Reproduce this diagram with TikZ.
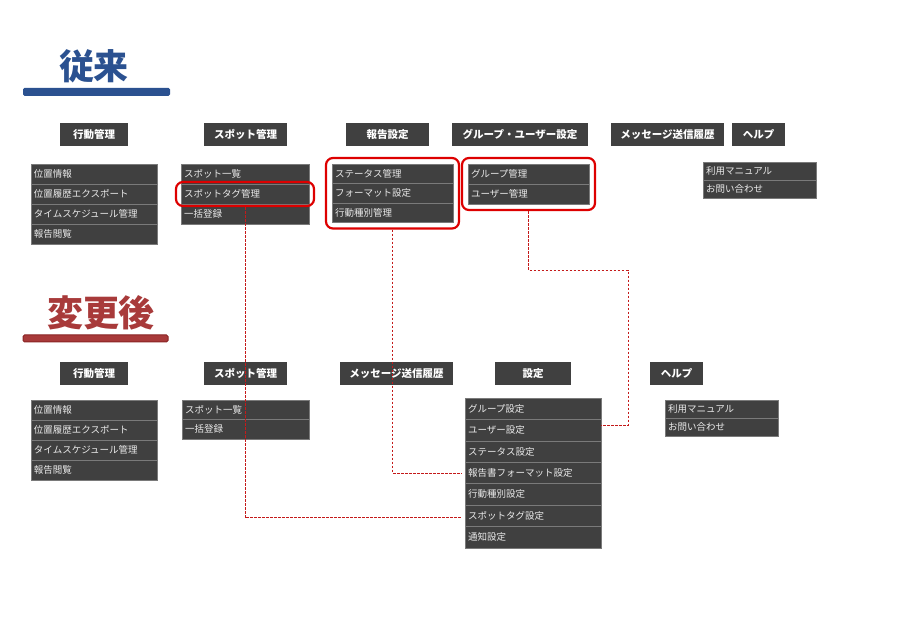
\documentclass[tikz,border=0pt]{standalone}
\usepackage{fontspec}
\newfontfamily\jp{Noto Sans CJK JP}
\usetikzlibrary{positioning,fit}
\definecolor{menugray}{HTML}{404040}
\definecolor{rulegray}{HTML}{7A7A7A}
\definecolor{oldblue}{HTML}{2B5190}
\definecolor{newred}{HTML}{A83A3A}
\definecolor{bardark}{HTML}{8A2424}
\definecolor{pickred}{HTML}{DD0000}
\definecolor{linkred}{HTML}{C41A1A}
\begin{document}
\begin{tikzpicture}[x=1pt,y=-1pt,node distance=0pt,
 menuhead/.style={fill=menugray,text=white,font=\jp\bfseries\fontsize{10.5}{12}\selectfont,minimum height=23pt,inner sep=0pt},
 menuitem/.style={fill=menugray,draw=rulegray,line width=0.6pt,text=white!92!black,font=\jp\fontsize{9.5}{11}\selectfont,text width=#1,align=left,inner xsep=3pt,inner ysep=0pt,minimum height=20pt,anchor=north west,outer sep=0pt},
 pickbox/.style={draw=pickred,line width=2.2pt,rounded corners=7pt,inner sep=6pt},
 movelink/.style={draw=linkred,line width=0.8pt,dash pattern=on 2.5pt off 1.5pt}]
\useasboundingbox (0,0) rectangle (906,639);
% titles
\node[font=\jp\bfseries\fontsize{35}{37}\selectfont,text=oldblue,inner sep=0pt] (oldtitle) at (94,66) {従来};
\fill[oldblue,rounded corners=1.5pt] (23,88) rectangle (170,96);
\node[font=\jp\bfseries\fontsize{36}{38}\selectfont,text=newred,inner sep=0pt] (newtitle) at (101,313) {変更後};
\draw[fill=newred,draw=bardark,line width=1pt,rounded corners=1.5pt] (23,335) rectangle (168,342);
% old menu heads
\node[menuhead,minimum width=68pt] (oact) at (94,134.5) {行動管理};
\node[menuhead,minimum width=83pt] (ospot) at (245.5,134.5) {スポット管理};
\node[menuhead,minimum width=83pt] (orep) at (387.5,134.5) {報告設定};
\node[menuhead,minimum width=136pt] (ogrp) at (520,134.5) {グループ・ユーザー設定};
\node[menuhead,minimum width=113pt] (omsg) at (667.5,134.5) {メッセージ送信履歴};
\node[menuhead,minimum width=53pt] (ohelp) at (758.5,134.5) {ヘルプ};
% old lists
\node[menuitem=120pt] (oact1) at (31,164) {位置情報};
\node[menuitem=120pt,below=of oact1] (oact2) {位置履歴エクスポート};
\node[menuitem=120pt,below=of oact2] (oact3) {タイムスケジュール管理};
\node[menuitem=120pt,below=of oact3] (oact4) {報告閲覧};
\node[menuitem=122pt] (ospot1) at (181,164) {スポット一覧};
\node[menuitem=122pt,below=of ospot1] (ospot2) {スポットタグ管理};
\node[menuitem=122pt,below=of ospot2] (ospot3) {一括登録};
\node[menuitem=115pt,minimum height=19.5pt] (orep1) at (332,164) {ステータス管理};
\node[menuitem=115pt,minimum height=19.5pt,below=of orep1] (orep2) {フォーマット設定};
\node[menuitem=115pt,minimum height=19.5pt,below=of orep2] (orep3) {行動種別管理};
\node[menuitem=115pt] (ogrp1) at (468,164) {グループ管理};
\node[menuitem=115pt,below=of ogrp1] (ogrp2) {ユーザー管理};
\node[menuitem=107pt,minimum height=18pt] (ohelp1) at (703,162) {利用マニュアル};
\node[menuitem=107pt,minimum height=18pt,below=of ohelp1] (ohelp2) {お問い合わせ};
% picked items
\node[pickbox,inner xsep=5pt,inner ysep=2pt,fit=(ospot2)] (tagbox) {};
\node[pickbox,fit=(orep1)(orep3)] (repbox) {};
\node[pickbox,fit=(ogrp1)(ogrp2)] (grpbox) {};
% new menu heads
\node[menuhead,minimum width=68pt] (nact) at (94,373.5) {行動管理};
\node[menuhead,minimum width=83pt] (nspot) at (245.5,373.5) {スポット管理};
\node[menuhead,minimum width=113pt] (nmsg) at (396.5,373.5) {メッセージ送信履歴};
\node[menuhead,minimum width=76pt] (nset) at (533,373.5) {設定};
\node[menuhead,minimum width=53pt] (nhelp) at (676.5,373.5) {ヘルプ};
% new lists
\node[menuitem=120pt] (nact1) at (31,400) {位置情報};
\node[menuitem=120pt,below=of nact1] (nact2) {位置履歴エクスポート};
\node[menuitem=120pt,below=of nact2] (nact3) {タイムスケジュール管理};
\node[menuitem=120pt,below=of nact3] (nact4) {報告閲覧};
\node[menuitem=121pt,minimum height=19.5pt] (nspot1) at (182,400) {スポット一覧};
\node[menuitem=121pt,minimum height=19.5pt,below=of nspot1] (nspot2) {一括登録};
\node[menuitem=130pt,minimum height=21.4pt] (grpset) at (465,398) {グループ設定};
\node[menuitem=130pt,minimum height=21.4pt,below=of grpset] (usrset) {ユーザー設定};
\node[menuitem=130pt,minimum height=21.4pt,below=of usrset] (staset) {ステータス設定};
\node[menuitem=130pt,minimum height=21.4pt,below=of staset] (fmtset) {報告書フォーマット設定};
\node[menuitem=130pt,minimum height=21.4pt,below=of fmtset] (actset) {行動種別設定};
\node[menuitem=130pt,minimum height=21.4pt,below=of actset] (tagset) {スポットタグ設定};
\node[menuitem=130pt,minimum height=21.4pt,below=of tagset] (notset) {通知設定};
\node[menuitem=107pt,minimum height=18pt] (nhelp1) at (665,400) {利用マニュアル};
\node[menuitem=107pt,minimum height=18pt,below=of nhelp1] (nhelp2) {お問い合わせ};
% moves
\draw[movelink,shorten >=3pt] (tagbox.south) |- ([yshift=-2pt]tagset.west);
\draw[movelink,shorten >=3pt] (repbox.south) |- (fmtset.west);
\draw[movelink] (grpbox.south) |- (628,270) |- ([yshift=5pt]usrset.east);
\end{tikzpicture}
\end{document}
